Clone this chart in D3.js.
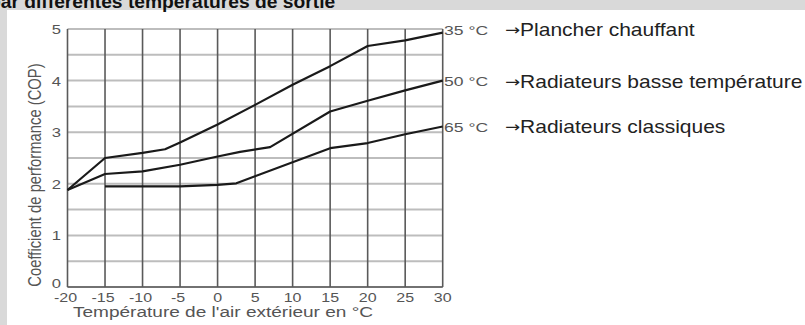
<!DOCTYPE html>
<html>
<head>
<meta charset="utf-8">
<script src="https://cdn.jsdelivr.net/npm/d3@7"></script>
<style>
  body { margin: 0; background: #d9d9d9; overflow: hidden; }
  svg { display: block; }
  text { font-family: "Liberation Sans", Arial, sans-serif; }
</style>
</head>
<body>
<div id="chart"></div>
<script>
// Values
const xTicks = [-20, -15, -10, -5, 0, 5, 10, 15, 20, 25, 30];
const yTicks = [0, 1, 2, 3, 4, 5];

const planX = [-20, -15, -10, -7, -5, 0, 5, 10, 15, 20, 25, 30];
const planY = [1.88, 2.5, 2.6, 2.67, 2.8, 3.15, 3.53, 3.92, 4.28, 4.67, 4.78, 4.93];

const basseX = [-20, -15, -10, -5, 0, 3, 7, 15, 20, 25, 30];
const basseY = [1.88, 2.19, 2.24, 2.37, 2.53, 2.62, 2.71, 3.4, 3.61, 3.81, 4.0];

const classX = [-15, -5, 0, 2.5, 15, 20, 25, 30];
const classY = [1.95, 1.95, 1.98, 2.01, 2.69, 2.79, 2.96, 3.11];

const seriesTemps = ['35 °C', '50 °C', '65 °C'];
const seriesNames = ['Plancher chauffant', 'Radiateurs basse température', 'Radiateurs classiques'];

const width = 805, height = 325;
const sx = 1.28; // the picture is stretched sideways

const svg = d3.select('#chart').append('svg')
  .attr('width', width)
  .attr('height', height);

// white panel
svg.append('rect').attr('x', 7).attr('y', 10)
  .attr('width', width - 7).attr('height', height - 10)
  .attr('fill', '#fff');

// title, cut off at the top
svg.append('text')
  .attr('transform', `translate(-11,8) scale(1.04,1)`)
  .style('font-size', '18.5px').style('font-weight', 700).style('fill', '#111')
  .text('par différentes températures de sortie');

const x = d3.scaleLinear().domain([-20, 30]).range([67.5, 442.7]);
const y = d3.scaleLinear().domain([0, 5]).range([287, 29]);

// horizontal grid every 0.5
const hLines = d3.range(0, 5.01, 0.5);
svg.append('g').selectAll('line').data(hLines).enter().append('line')
  .attr('x1', x(-20)).attr('x2', x(30))
  .attr('y1', d => y(d)).attr('y2', d => y(d))
  .attr('stroke', '#bdbdbd').attr('stroke-width', 2);

// vertical grid
svg.append('g').selectAll('line').data(xTicks).enter().append('line')
  .attr('x1', d => x(d)).attr('x2', d => x(d))
  .attr('y1', y(5)).attr('y2', y(0))
  .attr('stroke', '#5a5a5a').attr('stroke-width', 1.6);

// bottom axis line
svg.append('line')
  .attr('x1', x(-20)).attr('x2', x(30)).attr('y1', y(0)).attr('y2', y(0))
  .attr('stroke', '#5a5a5a').attr('stroke-width', 1.6);

// y tick labels
svg.append('g').selectAll('text').data(yTicks).enter().append('text')
  .attr('transform', d => `translate(61,${y(d) + (d === 0 ? 1 : 5)}) scale(${sx},1)`)
  .attr('text-anchor', 'end')
  .style('font-size', '13px').style('fill', '#555')
  .text(d => d);

// x tick labels
svg.append('g').selectAll('text').data(xTicks).enter().append('text')
  .attr('transform', d => `translate(${x(d) - (d < 0 ? 2 : 0)},302) scale(${sx},1)`)
  .attr('text-anchor', 'middle')
  .style('font-size', '12.5px').style('fill', '#555')
  .text(d => d);

// axis titles
svg.append('text')
  .attr('transform', `translate(73,317) scale(1.36,1)`)
  .style('font-size', '14px').style('fill', '#555')
  .text("Température de l'air extérieur en °C");

svg.append('text')
  .attr('transform', `translate(41,175) scale(${sx},1) rotate(-90)`)
  .attr('text-anchor', 'middle')
  .style('font-size', '14.8px').style('fill', '#555')
  .text('Coefficient de performance  (COP)');

// curves
const line = d3.line().x(d => x(d[0])).y(d => y(d[1]));
const curves = [
  d3.zip(planX, planY),
  d3.zip(basseX, basseY),
  d3.zip(classX, classY)
];
svg.append('g').selectAll('path').data(curves).enter().append('path')
  .attr('d', line)
  .attr('fill', 'none')
  .attr('stroke', '#1a1a1a')
  .attr('stroke-width', 2.2)
  .attr('stroke-linejoin', 'round');

// right labels
const labelY = [30, 81.5, 127];
const lab = svg.append('g').selectAll('g').data(seriesNames).enter().append('g');
lab.append('text')
  .attr('transform', (d, i) => `translate(444,${labelY[i] + 4.5}) scale(1.35,1)`)
  .style('font-size', '13px').style('fill', '#555')
  .text((d, i) => seriesTemps[i]);
const t = lab.append('text')
  .attr('transform', (d, i) => `translate(505,${labelY[i] + 6}) scale(1.2,1)`)
  .style('font-size', '17.5px').style('fill', '#222');
t.append('tspan')
  .style('font-size', '15px')
  .style('font-family', '"DejaVu Sans", sans-serif')
  .attr('dy', -1)
  .text('→');
t.append('tspan').attr('dy', 1).text(d => d);
</script>
</body>
</html>
